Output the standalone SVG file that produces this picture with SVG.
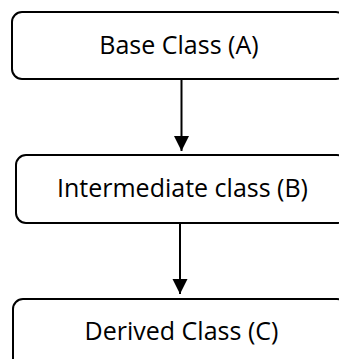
<svg xmlns="http://www.w3.org/2000/svg" width="339" height="359" viewBox="0 0 339 359">
<style>
.box{fill:#fff;stroke:#000;stroke-width:2}
.lbl{font-family:"Open Sans","Noto Sans",sans-serif;font-size:25px;fill:#000;text-anchor:middle}
.conn{stroke:#000;stroke-width:2;fill:none}
</style>
<defs>
<marker id="arr" markerUnits="userSpaceOnUse" markerWidth="16" markerHeight="16" refX="15" refY="7.5" orient="auto">
<path d="M0,0 L15,7.5 L0,15 Z" fill="#000"/>
</marker>
</defs>
<rect width="339" height="359" fill="#fff"/>
<g id="connectors">
<line class="conn" x1="181.5" y1="80" x2="181.5" y2="151" marker-end="url(#arr)"/>
<line class="conn" x1="180" y1="224" x2="180" y2="294" marker-end="url(#arr)"/>
</g>
<g id="nodeA">
<rect class="box" x="12" y="12" width="334" height="67" rx="10"/>
<text class="lbl" x="179" y="54">Base Class (A)</text>
</g>
<g id="nodeB">
<rect class="box" x="16" y="155" width="331" height="68" rx="10"/>
<text class="lbl" x="182.5" y="197">Intermediate class (B)</text>
</g>
<g id="nodeC">
<rect class="box" x="13" y="299" width="334" height="80" rx="10"/>
<text class="lbl" x="181.5" y="340">Derived Class (C)</text>
</g>
</svg>
